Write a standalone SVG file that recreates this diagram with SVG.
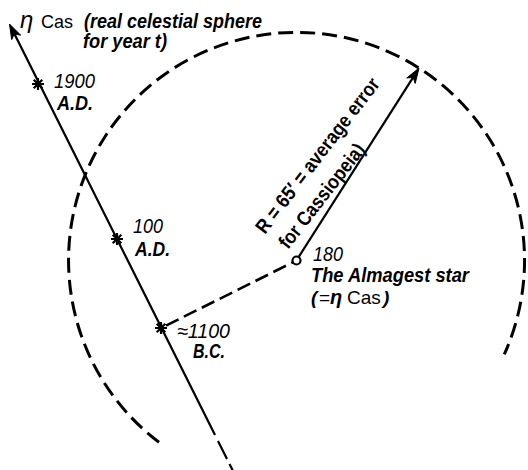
<svg xmlns="http://www.w3.org/2000/svg" xmlns:xlink="http://www.w3.org/1999/xlink" width="528" height="470" viewBox="0 0 528 470">
<style>
text{font-family:"Liberation Sans",Arial,sans-serif;fill:#000}
.it{font-style:italic;font-size:20px}
.bi{font-style:italic;font-weight:bold;font-size:20px}
.up{font-weight:normal;font-style:normal;font-size:19px}
.rot{font-weight:bold;font-size:20px}
.solid{fill:none;stroke:#000;stroke-width:2.2}
.dash{fill:none;stroke:#000;stroke-width:3;stroke-dasharray:15 7}
.dash2{fill:none;stroke:#000;stroke-width:2.6;stroke-dasharray:14 6}
.star{fill:none;stroke:#000;stroke-width:2.2}
</style>
<defs>
<path id="ast" class="star" d="M-6,0H6M0,-6V6M-4.3,-4.3L4.3,4.3M-4.3,4.3L4.3,-4.3"/>
</defs>
<g id="connectors">
<path id="sphere" class="dash" d="M159,442.2 A228,228 0 1 1 504.3,354.3"/>
<path id="track" class="solid" d="M12,29 L215,435"/>
<path id="track-tail" class="solid" d="M218,441 L227,459 M229.5,464 L233.5,472"/>
<polygon id="track-head" points="9.5,24 20.7,35.2 14.4,33.8 11.7,39.6" fill="#000" stroke="#000" stroke-width="1"/>
<path id="link" class="dash2" d="M166,325.6 L292.9,262.3"/>
<path id="radius" class="solid" d="M298.6,257.1 L413.1,77.3"/>
<polygon id="radius-head" points="419,68 415.2,83.4 413.1,77.3 406.8,78" fill="#000" stroke="#000" stroke-width="1"/>
</g>
<g id="title">
<text x="20" y="28" class="it" style="font-size:24px">η</text>
<text x="41" y="28" class="up" textLength="32" lengthAdjust="spacingAndGlyphs">Cas</text>
<text x="84" y="28" class="bi" textLength="178" lengthAdjust="spacingAndGlyphs">(real celestial sphere</text>
<text x="83" y="48" class="bi" textLength="84" lengthAdjust="spacingAndGlyphs">for year t)</text>
</g>
<g id="y1900">
<use xlink:href="#ast" x="38" y="84"/>
<text x="54" y="88" class="it" textLength="41" lengthAdjust="spacingAndGlyphs">1900</text>
<text x="57" y="110" class="bi" textLength="36" lengthAdjust="spacingAndGlyphs">A.D.</text>
</g>
<g id="y100">
<use xlink:href="#ast" x="117" y="239"/>
<text x="133" y="233" class="it" textLength="30" lengthAdjust="spacingAndGlyphs">100</text>
<text x="135" y="256" class="bi" textLength="35" lengthAdjust="spacingAndGlyphs">A.D.</text>
</g>
<g id="y1100bc">
<use xlink:href="#ast" x="161" y="328"/>
<text x="177" y="338" class="it" textLength="53" lengthAdjust="spacingAndGlyphs">≈1100</text>
<text x="193" y="358" class="bi" textLength="32" lengthAdjust="spacingAndGlyphs">B.C.</text>
</g>
<g id="almagest">
<circle cx="296.5" cy="260.5" r="4" fill="#fff" stroke="#000" stroke-width="2.2"/>
<text x="313" y="261" class="it" textLength="30" lengthAdjust="spacingAndGlyphs">180</text>
<text x="311" y="282" class="bi" textLength="158" lengthAdjust="spacingAndGlyphs">The Almagest star</text>
<text y="304" class="bi" style="font-size:19px"><tspan x="311">(</tspan><tspan x="319" class="up">=</tspan><tspan x="330" class="it" style="font-size:20px">η</tspan><tspan x="347" class="up">Cas</tspan><tspan x="383">)</tspan></text>
</g>
<g id="radius-label">
<text class="rot" transform="translate(265,235) rotate(-52.5)" textLength="190" lengthAdjust="spacingAndGlyphs">R = 65′ = average error</text>
<text class="rot" transform="translate(288,250) rotate(-52)" textLength="127" lengthAdjust="spacingAndGlyphs">for Cassiopeia)</text>
</g>
</svg>
